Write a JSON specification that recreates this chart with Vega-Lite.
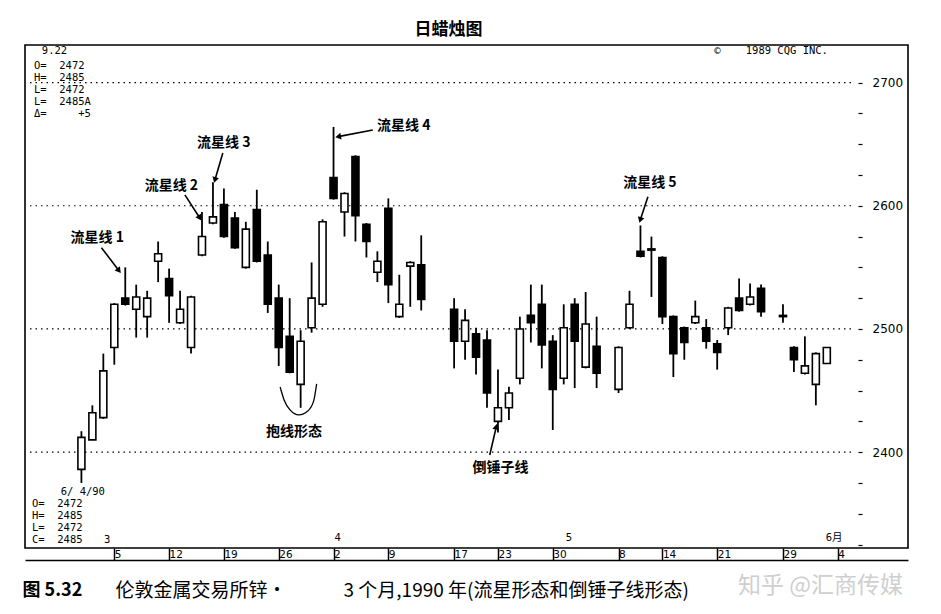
{
  "$schema": "https://vega.github.io/schema/vega-lite/v6.json",
  "width": 883,
  "height": 503,
  "autosize": {"type": "none"},
  "padding": {"left": 25, "top": 45, "right": 33, "bottom": 66},
  "background": "white",
  "title": {"text": "日蜡烛图", "font": "Noto Sans CJK SC", "fontSize": 17, "fontWeight": "bold", "color": "black", "offset": 6, "anchor": "middle", "dx": -18},
  "config": {"view": {"stroke": "black", "strokeWidth": 1.6}, "font": "DejaVu Sans"},
  "datasets": {
    "candles": [
      {"date": "1990-02-28", "t": 2, "o": 2386, "h": 2417, "l": 2375, "c": 2412},
      {"date": "1990-03-01", "t": 3, "o": 2410, "h": 2438, "l": 2410, "c": 2432},
      {"date": "1990-03-02", "t": 4, "o": 2428, "h": 2480, "l": 2427, "c": 2466},
      {"date": "1990-03-05", "t": 5, "o": 2485, "h": 2521, "l": 2471, "c": 2520},
      {"date": "1990-03-06", "t": 6, "o": 2525, "h": 2550, "l": 2519, "c": 2520},
      {"date": "1990-03-07", "t": 7, "o": 2516, "h": 2536, "l": 2493, "c": 2526},
      {"date": "1990-03-08", "t": 8, "o": 2510, "h": 2531, "l": 2493, "c": 2525},
      {"date": "1990-03-09", "t": 9, "o": 2555, "h": 2571, "l": 2538, "c": 2561},
      {"date": "1990-03-12", "t": 10, "o": 2541, "h": 2549, "l": 2505, "c": 2527},
      {"date": "1990-03-13", "t": 11, "o": 2505, "h": 2531, "l": 2504, "c": 2516},
      {"date": "1990-03-14", "t": 12, "o": 2485, "h": 2527, "l": 2480, "c": 2526},
      {"date": "1990-03-15", "t": 13, "o": 2560, "h": 2595, "l": 2559, "c": 2575},
      {"date": "1990-03-16", "t": 14, "o": 2586, "h": 2619, "l": 2585, "c": 2591},
      {"date": "1990-03-19", "t": 15, "o": 2601, "h": 2614, "l": 2574, "c": 2575},
      {"date": "1990-03-20", "t": 16, "o": 2590, "h": 2595, "l": 2565, "c": 2566},
      {"date": "1990-03-21", "t": 17, "o": 2550, "h": 2587, "l": 2549, "c": 2581},
      {"date": "1990-03-22", "t": 18, "o": 2597, "h": 2613, "l": 2554, "c": 2555},
      {"date": "1990-03-23", "t": 19, "o": 2560, "h": 2571, "l": 2513, "c": 2520},
      {"date": "1990-03-26", "t": 20, "o": 2525, "h": 2536, "l": 2470, "c": 2485},
      {"date": "1990-03-27", "t": 21, "o": 2494, "h": 2525, "l": 2464, "c": 2465},
      {"date": "1990-03-28", "t": 22, "o": 2455, "h": 2499, "l": 2436, "c": 2490},
      {"date": "1990-03-29", "t": 23, "o": 2501, "h": 2554, "l": 2497, "c": 2525},
      {"date": "1990-03-30", "t": 24, "o": 2520, "h": 2589, "l": 2518, "c": 2587},
      {"date": "1990-04-02", "t": 25, "o": 2623, "h": 2664, "l": 2605, "c": 2606},
      {"date": "1990-04-03", "t": 26, "o": 2595, "h": 2611, "l": 2575, "c": 2610},
      {"date": "1990-04-04", "t": 27, "o": 2640, "h": 2641, "l": 2571, "c": 2592},
      {"date": "1990-04-05", "t": 28, "o": 2585, "h": 2586, "l": 2558, "c": 2571},
      {"date": "1990-04-06", "t": 29, "o": 2546, "h": 2563, "l": 2538, "c": 2555},
      {"date": "1990-04-09", "t": 30, "o": 2598, "h": 2606, "l": 2521, "c": 2536},
      {"date": "1990-04-10", "t": 31, "o": 2510, "h": 2544, "l": 2509, "c": 2520},
      {"date": "1990-04-11", "t": 32, "o": 2551, "h": 2555, "l": 2518, "c": 2554},
      {"date": "1990-04-12", "t": 33, "o": 2552, "h": 2576, "l": 2515, "c": 2524},
      {"date": "1990-04-17", "t": 36, "o": 2516, "h": 2525, "l": 2468, "c": 2490},
      {"date": "1990-04-18", "t": 37, "o": 2490, "h": 2516, "l": 2475, "c": 2507},
      {"date": "1990-04-19", "t": 38, "o": 2496, "h": 2501, "l": 2463, "c": 2477},
      {"date": "1990-04-20", "t": 39, "o": 2491, "h": 2499, "l": 2436, "c": 2448},
      {"date": "1990-04-23", "t": 40, "o": 2425, "h": 2467, "l": 2416, "c": 2436},
      {"date": "1990-04-24", "t": 41, "o": 2436, "h": 2453, "l": 2426, "c": 2448},
      {"date": "1990-04-25", "t": 42, "o": 2460, "h": 2510, "l": 2455, "c": 2500},
      {"date": "1990-04-26", "t": 43, "o": 2511, "h": 2536, "l": 2489, "c": 2505},
      {"date": "1990-04-27", "t": 44, "o": 2520, "h": 2536, "l": 2468, "c": 2487},
      {"date": "1990-04-30", "t": 45, "o": 2490, "h": 2495, "l": 2418, "c": 2451},
      {"date": "1990-05-01", "t": 46, "o": 2460, "h": 2520, "l": 2455, "c": 2501},
      {"date": "1990-05-02", "t": 47, "o": 2520, "h": 2525, "l": 2452, "c": 2490},
      {"date": "1990-05-03", "t": 48, "o": 2469, "h": 2530, "l": 2468, "c": 2504},
      {"date": "1990-05-04", "t": 49, "o": 2486, "h": 2510, "l": 2452, "c": 2464},
      {"date": "1990-05-08", "t": 51, "o": 2451, "h": 2486, "l": 2448, "c": 2485},
      {"date": "1990-05-09", "t": 52, "o": 2501, "h": 2531, "l": 2500, "c": 2520},
      {"date": "1990-05-10", "t": 53, "o": 2563, "h": 2584, "l": 2558, "c": 2559},
      {"date": "1990-05-11", "t": 54, "o": 2565, "h": 2575, "l": 2526, "c": 2564},
      {"date": "1990-05-14", "t": 55, "o": 2558, "h": 2559, "l": 2504, "c": 2510},
      {"date": "1990-05-15", "t": 56, "o": 2510, "h": 2511, "l": 2461, "c": 2480},
      {"date": "1990-05-16", "t": 57, "o": 2501, "h": 2502, "l": 2475, "c": 2489},
      {"date": "1990-05-17", "t": 58, "o": 2505, "h": 2523, "l": 2504, "c": 2510},
      {"date": "1990-05-18", "t": 59, "o": 2501, "h": 2508, "l": 2484, "c": 2490},
      {"date": "1990-05-21", "t": 60, "o": 2488, "h": 2491, "l": 2467, "c": 2481},
      {"date": "1990-05-22", "t": 61, "o": 2501, "h": 2518, "l": 2495, "c": 2517},
      {"date": "1990-05-23", "t": 62, "o": 2525, "h": 2541, "l": 2514, "c": 2515},
      {"date": "1990-05-24", "t": 63, "o": 2520, "h": 2537, "l": 2519, "c": 2526},
      {"date": "1990-05-25", "t": 64, "o": 2533, "h": 2536, "l": 2510, "c": 2514},
      {"date": "1990-05-29", "t": 66, "o": 2511, "h": 2520, "l": 2505, "c": 2510},
      {"date": "1990-05-30", "t": 67, "o": 2485, "h": 2486, "l": 2465, "c": 2475},
      {"date": "1990-05-31", "t": 68, "o": 2464, "h": 2494, "l": 2463, "c": 2470},
      {"date": "1990-06-01", "t": 69, "o": 2455, "h": 2481, "l": 2438, "c": 2480},
      {"date": "1990-06-04", "t": 70, "o": 2472, "h": 2485, "l": 2472, "c": 2485}
    ],
    "grid": [{"v": 2400}, {"v": 2500}, {"v": 2600}, {"v": 2700}],
    "notes": [
      {"t": 3.44, "v": 2573.9, "text": "流星线 1"},
      {"t": 10.21, "v": 2616.1, "text": "流星线 2"},
      {"t": 14.99, "v": 2651.0, "text": "流星线 3"},
      {"t": 31.4, "v": 2664.8, "text": "流星线 4"},
      {"t": 53.86, "v": 2618.5, "text": "流星线 5"},
      {"t": 21.39, "v": 2416.4, "text": "抱线形态"},
      {"t": 40.24, "v": 2387.2, "text": "倒锤子线"}
    ],
    "arrows": [
      {"t": 3.83, "v": 2566.0, "t2": 5.43, "v2": 2547.3, "a": 142},
      {"t": 11.44, "v": 2608.8, "t2": 12.8, "v2": 2590.1, "a": 147},
      {"t": 14.9, "v": 2642.9, "t2": 14.18, "v2": 2620.9, "a": 196},
      {"t": 28.58, "v": 2661.5, "t2": 25.42, "v2": 2656.1, "a": 259},
      {"t": 39.25, "v": 2397.7, "t2": 39.85, "v2": 2420.7, "a": 13},
      {"t": 53.68, "v": 2607.4, "t2": 52.98, "v2": 2588.5, "a": 198}
    ],
    "arc": [
      {"t": 20.13, "v": 2452.9},
      {"t": 20.49, "v": 2442.4},
      {"t": 21.03, "v": 2434.3},
      {"t": 21.84, "v": 2430.2},
      {"t": 22.65, "v": 2433.4},
      {"t": 23.19, "v": 2441.6},
      {"t": 23.46, "v": 2455.4}
    ],
    "info": [
      {"t": -1.61, "v": 2725.6, "text": "9.22"},
      {"t": 59.72, "v": 2725.6, "text": "©\u00a0\u00a0\u00a0\u00a01989\u00a0CQG\u00a0INC."},
      {"t": -2.33, "v": 2713.5, "text": "O=\u00a0\u00a02472"},
      {"t": -2.33, "v": 2703.7, "text": "H=\u00a0\u00a02485"},
      {"t": -2.33, "v": 2694.0, "text": "L=\u00a0\u00a02472"},
      {"t": -2.33, "v": 2684.3, "text": "L=\u00a0\u00a02485A"},
      {"t": -2.33, "v": 2674.6, "text": "Δ=\u00a0\u00a0\u00a0\u00a0\u00a0+5"},
      {"t": 0.11, "v": 2367.7, "text": "6/\u00a04/90"},
      {"t": -2.51, "v": 2358.0, "text": "O=\u00a0\u00a02472"},
      {"t": -2.51, "v": 2348.3, "text": "H=\u00a0\u00a02485"},
      {"t": -2.51, "v": 2338.5, "text": "L=\u00a0\u00a02472"},
      {"t": -2.51, "v": 2328.8, "text": "C=\u00a0\u00a02485"},
      {"t": 4.07, "v": 2328.8, "text": "3"},
      {"t": 25.09, "v": 2330.4, "text": "4"},
      {"t": 46.19, "v": 2330.4, "text": "5"},
      {"t": 69.9, "v": 2330.4, "text": "6月"}
    ]
  },
  "layer": [
    {
      "data": {"name": "grid"},
      "mark": {"type": "rule", "color": "black", "strokeWidth": 1.2, "strokeDash": [1.5, 4]},
      "encoding": {
        "y": {"field": "v", "type": "quantitative", "axis": null, "scale": {"domain": [2322.2, 2730.5], "nice": false, "zero": false}},
        "x": {"datum": -2.69, "type": "quantitative", "axis": null, "scale": {"domain": [-2.69, 76.95], "nice": false, "zero": false}},
        "x2": {"datum": 72.44}
      }
    },
    {
      "mark": {"type": "rule", "color": "black", "strokeWidth": 1.6},
      "encoding": {
        "y": {"datum": 2720, "type": "quantitative", "axis": null},
        "x": {"datum": -2.69, "type": "quantitative", "axis": null},
        "x2": {"datum": 72.44}
      }
    },
    {
      "mark": {"type": "rule", "color": "black", "strokeWidth": 1.6},
      "encoding": {
        "x": {"datum": 72.44, "type": "quantitative", "axis": null},
        "y": {"datum": 2322.2, "type": "quantitative", "axis": null},
        "y2": {"datum": 2720}
      }
    },
    {
      "data": {"name": "candles"},
      "mark": {"type": "rule", "color": "black", "strokeWidth": 1.8},
      "encoding": {
        "x": {
          "field": "t", "type": "quantitative",
          "scale": {"domain": [-2.69, 76.95], "nice": false, "zero": false},
          "axis": {
            "orient": "bottom", "values": [5, 10, 15, 20, 25, 30, 36, 40, 45, 51, 55, 60, 66, 71],
            "labelExpr": "['5','12','19','26','2','9','17','23','30','8','14','21','29','4'][indexof([5,10,15,20,25,30,36,40,45,51,55,60,66,71], datum.value)]",
            "domain": false, "grid": false, "ticks": true, "tickSize": 12, "tickColor": "black", "tickWidth": 1.5,
            "labelAlign": "left", "labelBaseline": "top", "labelPadding": -11, "labelDx": 3,
            "labelFlush": false, "labelOverlap": false, "labelBound": false,
            "labelFont": "DejaVu Sans", "labelFontSize": 10.5, "labelColor": "black",
            "title": "图 5.32", "titleX": -3, "titleY": 42, "titleAlign": "left", "titleAnchor": "start", "titleBaseline": "middle",
            "titleFont": "Noto Sans CJK SC", "titleFontSize": 18, "titleFontWeight": "bold", "titleColor": "black"
          }
        },
        "y": {
          "field": "l", "type": "quantitative",
          "scale": {"domain": [2322.2, 2730.5], "nice": false, "zero": false},
          "axis": {
            "orient": "right", "offset": -50, "values": [2400, 2500, 2600, 2700], "format": "d",
            "domain": false, "ticks": false, "grid": false, "labelPadding": 14,
            "labelFont": "DejaVu Sans", "labelFontSize": 12, "labelColor": "black", "title": null
          }
        },
        "y2": {"field": "h"}
      }
    },
    {
      "data": {"name": "candles"},
      "mark": {"type": "bar", "width": 7, "stroke": "black", "strokeWidth": 1.6},
      "encoding": {
        "x": {
          "field": "t", "type": "quantitative",
          "axis": {
            "orient": "bottom", "offset": 12, "domain": true, "domainColor": "black", "domainWidth": 1.6,
            "ticks": false, "labels": false, "grid": false,
            "title": "伦敦金属交易所锌·　　　3 个月,1990 年(流星形态和倒锤子线形态)",
            "titleX": 90, "titleY": 30, "titleAlign": "left", "titleAnchor": "start", "titleBaseline": "middle",
            "titleFont": "Noto Sans CJK SC", "titleFontSize": 19, "titleFontWeight": "normal", "titleColor": "black"
          }
        },
        "y": {
          "field": "o", "type": "quantitative",
          "axis": {
            "orient": "right", "offset": -50,
            "values": [2325, 2350, 2375, 2400, 2425, 2450, 2475, 2500, 2525, 2550, 2575, 2600, 2625, 2650, 2675, 2700],
            "domain": false, "labels": false, "grid": false, "ticks": true, "tickSize": 4, "tickColor": "black", "tickWidth": 1.2,
            "title": "知乎 @汇商传媒", "titleAngle": 0, "titleX": -38, "titleY": 540, "titleAlign": "center", "titleBaseline": "middle",
            "titleFont": "Noto Sans CJK SC", "titleFontSize": 23, "titleFontWeight": "normal", "titleColor": "#cfcfcf"
          }
        },
        "y2": {"field": "c"},
        "fill": {"condition": {"test": "datum.c >= datum.o", "value": "white"}, "value": "black"}
      }
    },
    {
      "data": {"name": "notes"},
      "mark": {"type": "text", "font": "Noto Sans CJK SC", "fontSize": 14, "fontWeight": "bold", "color": "black", "align": "center", "baseline": "middle"},
      "encoding": {
        "x": {"field": "t", "type": "quantitative", "axis": null},
        "y": {"field": "v", "type": "quantitative", "axis": null},
        "text": {"field": "text"}
      }
    },
    {
      "data": {"name": "arrows"},
      "mark": {"type": "rule", "color": "black", "strokeWidth": 1.6},
      "encoding": {
        "x": {"field": "t", "type": "quantitative", "axis": null},
        "y": {"field": "v", "type": "quantitative", "axis": null},
        "x2": {"field": "t2"},
        "y2": {"field": "v2"}
      }
    },
    {
      "data": {"name": "arrows"},
      "mark": {"type": "point", "shape": "triangle-up", "filled": true, "color": "black", "size": 45, "opacity": 1},
      "encoding": {
        "x": {"field": "t2", "type": "quantitative", "axis": null},
        "y": {"field": "v2", "type": "quantitative", "axis": null},
        "angle": {"field": "a", "type": "quantitative", "scale": null}
      }
    },
    {
      "data": {"name": "arc"},
      "mark": {"type": "line", "color": "black", "strokeWidth": 1.3, "interpolate": "monotone"},
      "encoding": {
        "x": {"field": "t", "type": "quantitative", "axis": null},
        "y": {"field": "v", "type": "quantitative", "axis": null}
      }
    },
    {
      "data": {"name": "info"},
      "mark": {"type": "text", "font": "DejaVu Sans Mono, Noto Sans CJK SC", "fontSize": 10.5, "color": "black", "align": "left", "baseline": "middle"},
      "encoding": {
        "x": {"field": "t", "type": "quantitative", "axis": null},
        "y": {"field": "v", "type": "quantitative", "axis": null},
        "text": {"field": "text"}
      }
    }
  ],
  "resolve": {"axis": {"x": "independent", "y": "independent"}}
}
